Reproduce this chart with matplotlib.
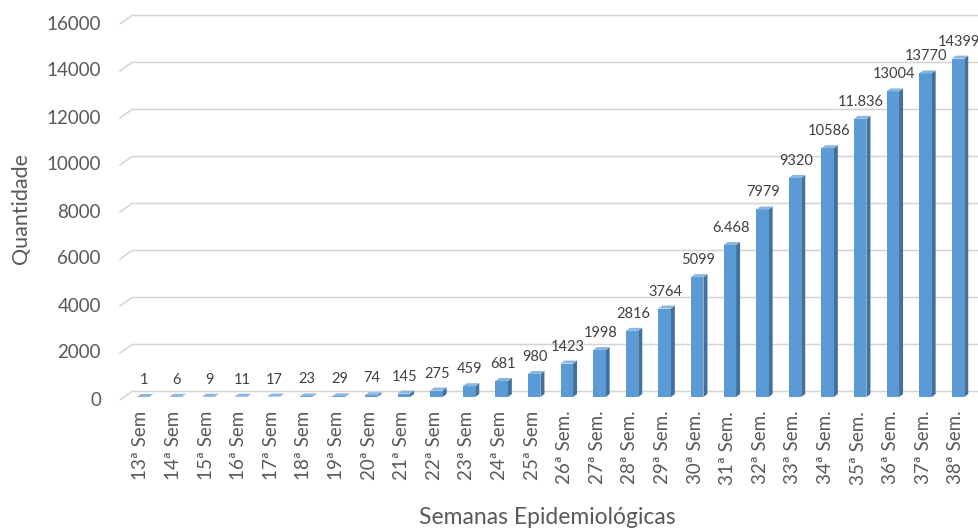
import matplotlib
matplotlib.use("Agg")
import matplotlib.pyplot as plt
import matplotlib.transforms as mtransforms
from matplotlib.patches import Polygon
from matplotlib.lines import Line2D

# ---- data ----
categories = ["13ª Sem", "14ª Sem", "15ª Sem", "16ª Sem", "17ª Sem", "18ª Sem",
              "19ª Sem", "20ª Sem", "21ª Sem", "22ª Sem", "23ª Sem", "24ª Sem",
              "25ª Sem", "26ª Sem.", "27ª Sem.", "28ª Sem.", "29ª Sem.", "30ª Sem.",
              "31ª Sem.", "32ª Sem.", "33ª Sem.", "34ª Sem.", "35ª Sem.", "36ª Sem.",
              "37ª Sem.", "38ª Sem."]
values = [1, 6, 9, 11, 17, 23, 29, 74, 145, 275, 459, 681, 980, 1423, 1998,
          2816, 3764, 5099, 6468, 7979, 9320, 10586, 11836, 13004, 13770, 14399]
value_labels = ["1", "6", "9", "11", "17", "23", "29", "74", "145", "275", "459",
                "681", "980", "1423", "1998", "2816", "3764", "5099", "6.468",
                "7979", "9320", "10586", "11.836", "13004", "13770", "14399"]
yticks = [0, 2000, 4000, 6000, 8000, 10000, 12000, 14000, 16000]
ytick_labels = ["0", "2000", "4000", "6000", "8000", "10000", "12000", "14000", "16000"]
x_title = "Semanas Epidemiológicas"
y_title = "Quantidade"

# ---- style ----
FONT = "Lato"
TXT = "#595959"
FRONT = "#5B9BD5"
SIDE = "#41719C"
TOP = "#8AB6E2"
GRID = "#D4D4D4"

W, H, DPI = 979, 528, 100
fig = plt.figure(figsize=(W / DPI, H / DPI), dpi=DPI)

ax_left_px, ax_right_px = 120, 979
y0_px, ytop_px = 397, 21  # pixel rows (from top) of 0 and 16000 in bar plane
ax = fig.add_axes([ax_left_px / W, (H - y0_px) / H,
                   (ax_right_px - ax_left_px) / W, (y0_px - ytop_px) / H])
x_first_px, step_px = 143, 32.6
ax.set_xlim(-(x_first_px - ax_left_px) / step_px, (ax_right_px - x_first_px) / step_px)
ax.set_ylim(0, 16000)
ax.axis("off")

px_per_x = step_px
px_per_y = (y0_px - ytop_px) / 16000.0
axes_w_px = ax_right_px - ax_left_px

# gridlines (back wall with slanted floor edge)
gtrans = ax.get_yaxis_transform()
for v in yticks:
    xs = [0, 12 / axes_w_px, 1.0]
    ys = [v - 3 / px_per_y, v + 5.5 / px_per_y, v + 5.5 / px_per_y]
    ax.add_line(Line2D(xs, ys, transform=gtrans, color=GRID, lw=1.1,
                       clip_on=False, zorder=0))

# y tick labels
tl_trans = mtransforms.offset_copy(gtrans, fig=fig, x=-19, y=-3, units="dots")
for v, s in zip(yticks, ytick_labels):
    ax.text(0, v, s, transform=tl_trans, ha="right", va="center",
            fontsize=13.5, color=TXT, family=FONT)

# 3D-style bars
xs = list(range(len(values)))
bw = 12.5 / px_per_x
dx = 4.0 / px_per_x
dy = 3.0 / px_per_y
ax.bar(xs, values, width=bw, color=FRONT, zorder=3, clip_on=False)
for x, v in zip(xs, values):
    r = x + bw / 2
    l = x - bw / 2
    side = Polygon([(r, 0), (r + dx, dy), (r + dx, v + dy), (r, v)],
                   closed=True, facecolor=SIDE, edgecolor="none", zorder=2, clip_on=False)
    top = Polygon([(l, v), (r, v), (r + dx, v + dy), (l + dx, v + dy)],
                  closed=True, facecolor=TOP, edgecolor="none", zorder=4, clip_on=False)
    ax.add_patch(side)
    ax.add_patch(top)

# value labels
for x, v, s in zip(xs, values, value_labels):
    ax.annotate(s, (x, v), xytext=(1, 10), textcoords="offset pixels",
                ha="center", va="bottom", fontsize=10.5, color="#404040",
                family=FONT, annotation_clip=False)

# category labels
cl_trans = mtransforms.offset_copy(ax.transData, fig=fig, x=-2, y=-14, units="dots")
for x, c in zip(xs, categories):
    ax.text(x, 0, c, transform=cl_trans, rotation=90, ha="center", va="top",
            fontsize=13.5, color=TXT, family=FONT)

# axis titles
fig.text(21 / W, 1 - 209 / H, y_title, rotation=90, ha="center", va="center",
         fontsize=15.5, color=TXT, family=FONT)
fig.text(547 / W, 1 - 518 / H, x_title, ha="center", va="center",
         fontsize=16.5, color=TXT, family=FONT)

fig.savefig("out.png", dpi=DPI, facecolor="white")
